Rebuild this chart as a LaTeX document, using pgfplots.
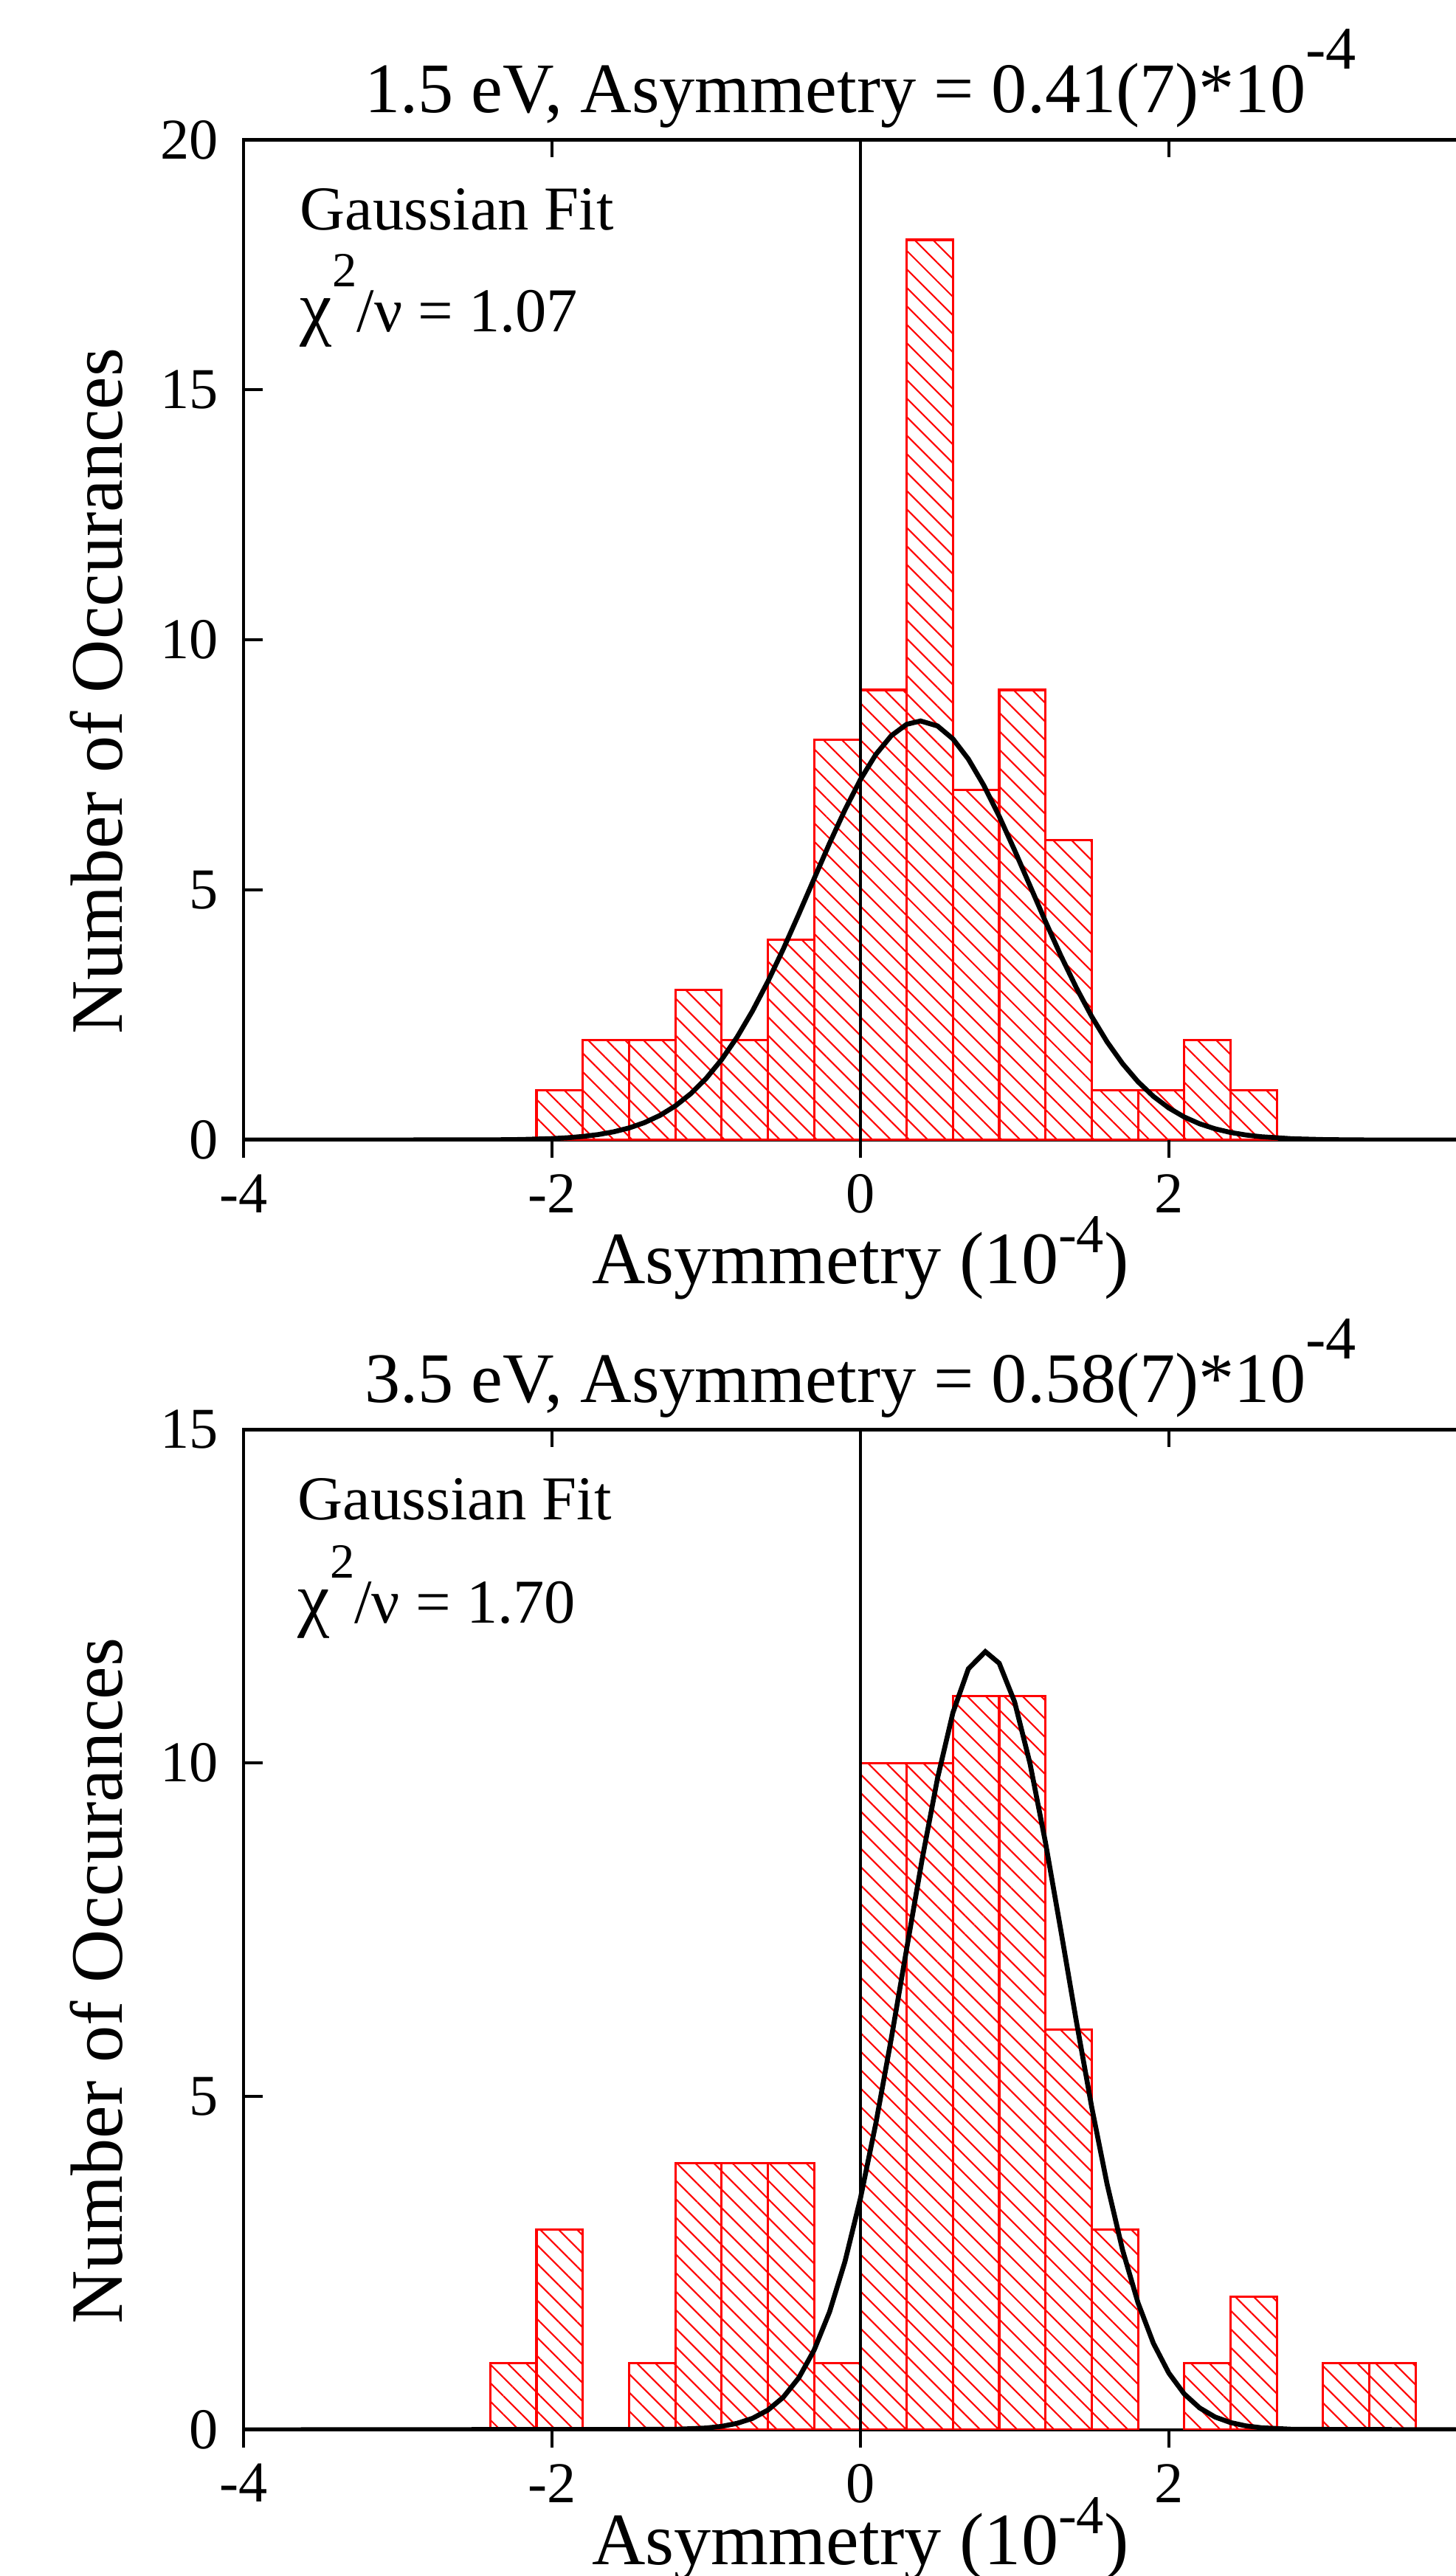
\documentclass[border=0pt]{standalone}
\usepackage{fontspec}
\setmainfont{Liberation Serif}
\usepackage{pgfplots}
\pgfplotsset{compat=1.18}
\usetikzlibrary{patterns.meta}
\newcommand\ticklabfont{\fontsize{10}{12}\selectfont}
\newcommand\labfont{\fontsize{12.8}{15}\selectfont}
\newcommand\titlefont{\fontsize{12.3}{15}\selectfont}
\newcommand\annfont{\fontsize{10.8}{13}\selectfont}
\newcommand\supm{\raisebox{0.62em}{\fontsize{10.5}{12}\selectfont -4}}
\newcommand\supl{\raisebox{0.42em}{\fontsize{9.5}{11}\selectfont -4}}
\newcommand\chitext[1]{{\fontsize{12.5}{14}\selectfont χ}\raisebox{0.72em}{\fontsize{8.5}{10}\selectfont 2}/ν = #1}
\pgfplotsset{
  panelbase/.style={at={(0pt,#1)}, anchor=south west, scale only axis,
    width=213.5pt, height=173.1pt, xmin=-4, xmax=4},
  mainaxis/.style 2 args={panelbase=#1,
    axis line style={line width=0.55pt},
    xtick={-4,-2,0,2}, xticklabels={-4,-2,0,2}, x tick style={draw=none},
    ytick pos=left, tick align=inside, major tick length=3.3pt,
    y tick style={line width=0.5pt, black},
    tick label style={font=\ticklabfont},
    xticklabel style={yshift=-2.4pt}, yticklabel style={xshift=-0.8pt},
    xlabel style={at={(axis description cs:0.5,#2)}, anchor=base, inner sep=0pt, font=\labfont},
    ylabel style={at={(axis description cs:-0.0984,0.449)}, anchor=base, font=\labfont},
    title style={at={(axis description cs:0.5,1.027)}, anchor=base, yshift=-6pt, font=\titlefont},
    xlabel={Asymmetry (10\supl)}, ylabel={Number of Occurances}},
  bottomticks/.style={panelbase=#1, ymin=0, ymax=1, hide y axis, axis x line*=bottom,
    axis line style={draw=none}, xtick={-4,-2,0,2}, xticklabels={}, ytick=\empty,
    tick align=outside, major tick length=3.1pt, x tick style={line width=0.5pt, black}},
  topticks/.style={panelbase=#1, ymin=0, ymax=1, hide y axis, axis x line*=top,
    axis line style={draw=none}, xtick={-4,-2,0,2}, xticklabels={}, ytick=\empty,
    tick align=inside, major tick length=3.0pt, x tick style={line width=0.5pt, black}},
  hist/.style={ybar interval, draw=red, line width=0.4pt,
    pattern={Lines[angle=-45,distance=2.26pt,line width=0.27pt]}, pattern color=red},
  fit/.style={black, line width=0.85pt, mark=none},
  zeroline/.style={black, line width=0.6pt, mark=none},
}
\begin{document}
\begin{tikzpicture}
% ---------------- top panel ----------------
\begin{axis}[mainaxis={0pt}{-0.1438}, ymin=0, ymax=20,
  ytick={0,5,10,15,20}, yticklabels={0,5,10,15,20},
  title={1.5 eV, Asymmetry = 0.41(7)*10\supm}]
\addplot[hist] coordinates {(-2.1,1) (-1.8,2) (-1.5,2) (-1.2,3) (-0.9,2) (-0.6,4)
  (-0.3,8) (0,9) (0.3,18) (0.6,7) (0.9,9) (1.2,6) (1.5,1) (1.8,1) (2.1,2) (2.4,1) (2.7,0)};
\addplot[zeroline] coordinates {(0,0) (0,20)};
\addplot[fit] coordinates {(-4,0) (-2.4,0.004) (-2.2,0.011) (-2.0,0.029) (-1.9,0.046)
  (-1.8,0.072) (-1.7,0.110) (-1.6,0.165) (-1.5,0.242) (-1.4,0.349) (-1.3,0.493)
  (-1.2,0.683) (-1.1,0.927) (-1.0,1.234) (-0.9,1.608) (-0.8,2.056) (-0.7,2.580)
  (-0.6,3.170) (-0.5,3.820) (-0.4,4.513) (-0.3,5.226) (-0.2,5.934) (-0.1,6.604)
  (0,7.207) (0.1,7.710) (0.2,8.085) (0.3,8.313) (0.39,8.38) (0.5,8.280) (0.6,8.021)
  (0.7,7.618) (0.8,7.093) (0.9,6.474) (1.0,5.794) (1.1,5.083) (1.2,4.371) (1.3,3.686)
  (1.4,3.047) (1.5,2.469) (1.6,1.961) (1.7,1.528) (1.8,1.166) (1.9,0.873) (2.0,0.641)
  (2.1,0.461) (2.2,0.325) (2.3,0.225) (2.4,0.152) (2.5,0.101) (2.6,0.066) (2.8,0.026)
  (3.0,0.010) (3.2,0.003) (4,0)};
\node[anchor=base west, inner sep=0pt, font=\annfont] at (axis cs:-3.64,18.2) {Gaussian Fit};
\node[anchor=base west, inner sep=0pt, font=\annfont] at (axis cs:-3.64,16.17) {\chitext{1.07}};
\end{axis}
\begin{axis}[bottomticks=0pt]\end{axis}
\begin{axis}[topticks=0pt]\end{axis}
% ---------------- bottom panel ----------------
\begin{axis}[mainaxis={-223.2pt}{-0.135}, ymin=0, ymax=15,
  ytick={0,5,10,15}, yticklabels={0,5,10,15},
  title={3.5 eV, Asymmetry = 0.58(7)*10\supm}]
\addplot[hist] coordinates {(-2.4,1) (-2.1,3) (-1.8,0)};
\addplot[hist] coordinates {(-1.5,1) (-1.2,4) (-0.9,4) (-0.6,4) (-0.3,1) (0,10) (0.3,10)
  (0.6,11) (0.9,11) (1.2,6) (1.5,3) (1.8,0)};
\addplot[hist] coordinates {(2.1,1) (2.4,2) (2.7,0)};
\addplot[hist] coordinates {(3.0,1) (3.3,1) (3.6,0)};
\addplot[zeroline] coordinates {(0,0) (0,15)};
\addplot[fit] coordinates {(-4,0) (-1.2,0.007) (-1.0,0.027) (-0.9,0.052) (-0.8,0.097)
  (-0.7,0.172) (-0.6,0.296) (-0.5,0.489) (-0.4,0.778) (-0.3,1.196) (-0.2,1.769)
  (-0.1,2.524) (0,3.469) (0.1,4.594) (0.2,5.865) (0.3,7.214) (0.4,8.552) (0.5,9.770)
  (0.6,10.756) (0.7,11.412) (0.81,11.67) (0.9,11.496) (1.0,10.916) (1.1,9.990)
  (1.2,8.809) (1.3,7.486) (1.4,6.131) (1.5,4.838) (1.6,3.681) (1.7,2.697) (1.8,1.906)
  (1.9,1.297) (2.0,0.851) (2.1,0.538) (2.2,0.328) (2.3,0.192) (2.4,0.109) (2.5,0.059)
  (2.6,0.031) (2.8,0.008) (4,0)};
\node[anchor=base west, inner sep=0pt, font=\annfont] at (axis cs:-3.655,13.65) {Gaussian Fit};
\node[anchor=base west, inner sep=0pt, font=\annfont] at (axis cs:-3.655,12.1) {\chitext{1.70}};
\end{axis}
\begin{axis}[bottomticks=-223.2pt]\end{axis}
\begin{axis}[topticks=-223.2pt]\end{axis}
\pgfresetboundingbox
\useasboundingbox (-42.14pt,-248.5pt) rectangle (209.8pt,197.3pt);
\end{tikzpicture}
\end{document}
